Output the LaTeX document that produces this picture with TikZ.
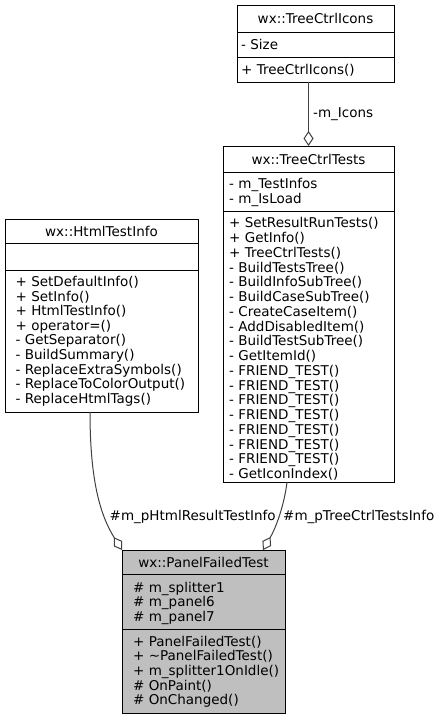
\documentclass[tikz,border=0pt]{standalone}
\usepackage{fontspec}
\setmainfont{DejaVu Sans}
\usetikzlibrary{arrows.meta}
\definecolor{edgegrey}{HTML}{404040}
\definecolor{grey75}{HTML}{BFBFBF}
\begin{document}
\begin{tikzpicture}[x=1pt,y=-1pt,
  font=\fontsize{13.5}{14.6}\selectfont,
  classbox/.style={draw=black, line width=1pt, fill=white, inner sep=0pt, outer sep=0pt, anchor=north west},
  hilite/.style={classbox, fill=grey75},
  sep/.style={draw=black, line width=1pt},
  txt/.style={anchor=base west, inner sep=0pt},
  ttl/.style={anchor=base, inner sep=0pt},
  lbl/.style={anchor=base west, inner sep=0pt},
  assoc/.style={draw=edgegrey, line width=1pt, {Diamond[open,length=15pt,width=10pt]}-}
]
\useasboundingbox (0,0) rectangle (442,720);

% class boxes
\node[classbox, minimum width=157pt, minimum height=77pt]  (icons) at (237,5)   {};
\node[classbox, minimum width=171pt, minimum height=336pt] (tests) at (223,146) {};
\node[classbox, minimum width=193pt, minimum height=193pt] (html)  at (5,219)   {};
\node[hilite,   minimum width=163pt, minimum height=163pt] (panel) at (122,550) {};

% compartment separators
\draw[sep] (237,32) -- (394,32);
\draw[sep] (237,57) -- (394,57);
\draw[sep] (223,172) -- (394,172);
\draw[sep] (223,211) -- (394,211);
\draw[sep] (5,243) -- (198,243);
\draw[sep] (5,270) -- (198,270);
\draw[sep] (122,574) -- (285,574);
\draw[sep] (122,629) -- (285,629);

% wx::TreeCtrlIcons
\node[ttl] (iconsT) at (315.5,23.3) {wx::TreeCtrlIcons};
\node[txt] (iconsA) at (241,49.3) {- Size};
\node[txt] (iconsM) at (241,74.8) {+ TreeCtrlIcons()};

% wx::TreeCtrlTests
\node[ttl] (testsT) at (308.5,164) {wx::TreeCtrlTests};
\node[txt] (testsA1) at (229,188.5) {- m\_TestInfos};
\node[txt] (testsA2) at (229,203) {- m\_IsLoad};
\foreach \t [count=\i from 0] in {%
  + SetResultRunTests(), + GetInfo(), + TreeCtrlTests(), - BuildTestsTree(),
  - BuildInfoSubTree(), - BuildCaseSubTree(), - CreateCaseItem(), - AddDisabledItem(),
  - BuildTestSubTree(), - GetItemId(), - FRIEND\_TEST(), - FRIEND\_TEST(),
  - FRIEND\_TEST(), - FRIEND\_TEST(), - FRIEND\_TEST(), - FRIEND\_TEST(),
  - FRIEND\_TEST(), - GetIconIndex()}
  \node[txt] (testsM\i) at (229,227.8+14.75*\i) {\t};

% wx::HtmlTestInfo
\node[ttl] (htmlT) at (101.5,236.5) {wx::HtmlTestInfo};
\foreach \t [count=\i from 0] in {%
  + SetDefaultInfo(), + SetInfo(), + HtmlTestInfo(), + operator=(),
  - GetSeparator(), - BuildSummary(), - ReplaceExtraSymbols(),
  - ReplaceToColorOutput(), - ReplaceHtmlTags()}
  \node[txt] (htmlM\i) at (15.5,286.5+14.6*\i) {\t};

% wx::PanelFailedTest
\node[ttl] (panelT) at (203.5,567) {wx::PanelFailedTest};
\foreach \t [count=\i from 0] in {\# m\_splitter1, \# m\_panel6, \# m\_panel7}
  \node[txt] (panelA\i) at (133,592+14.6*\i) {\t};
\foreach \t [count=\i from 0] in {%
  + PanelFailedTest(), + \textasciitilde PanelFailedTest(), + m\_splitter1OnIdle(),
  \# OnPaint(), \# OnChanged()}
  \node[txt] (panelM\i) at (133,646.2+14.6*\i) {\t};

% aggregation connectors
\draw[assoc] (tests.north) -- (tests.north |- icons.south);
\draw[assoc] (panel.north west) .. controls (100,515) and (90,480) .. ([xshift=-11.5pt]html.south);
\draw[assoc] ([xshift=141pt]panel.north west) .. controls (278,524) and (285,500) .. ([xshift=-21.5pt]tests.south);

% connector labels
\node[lbl] (lIcons) at (313,117.5) {-m\_Icons};
\node[lbl] (lHtml)  at (109.5,520.5) {\#m\_pHtmlResultTestInfo};
\node[lbl] (lTests) at (283,520.5) {\#m\_pTreeCtrlTestsInfo};
\end{tikzpicture}
\end{document}
